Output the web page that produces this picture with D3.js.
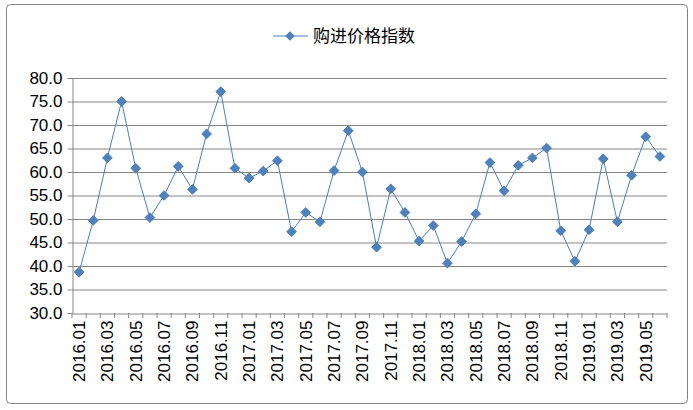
<!DOCTYPE html><html><head><meta charset="utf-8"><script src="https://cdn.jsdelivr.net/npm/d3@7"></script>
<style>body{margin:0;background:#fff}</style></head><body><svg id="c" width="693" height="410"></svg><script>
const seriesName="购进价格指数";
const years=["2016","2017","2018","2019"];
const values=[38.7,49.7,63.0,75.0,60.8,50.3,55.0,61.2,56.3,68.1,77.1,60.8,58.7,60.2,62.4,47.3,51.4,49.4,60.3,68.8,60.0,44.0,56.4,51.4,45.3,48.6,40.6,45.2,51.1,62.0,56.0,61.4,63.0,65.1,47.5,41.0,47.7,62.8,49.4,59.3,67.5,63.3];
const yTicks=[30,35,40,45,50,55,60,65,70,75,80];
const cats=[];years.forEach(y=>{for(let m=1;m<=12;m++)cats.push(y+"."+String(m).padStart(2,"0"));});
const months=cats.slice(0,values.length);
const svg=d3.select("#c");
svg.append("rect").attr("x",6.5).attr("y",4.5).attr("width",681).attr("height",399).attr("rx",4).attr("fill","#fff").attr("stroke","#868686");
const L=72,R=667,T=78,B=313;
const x=d3.scaleBand().domain(months).range([L,R]);
const y=d3.scaleLinear().domain([30,80]).range([B,T]);
const f="'Liberation Sans',Arial,sans-serif";
svg.append("g").selectAll("line").data(yTicks.slice(1)).join("line").attr("x1",L).attr("x2",R).attr("y1",d=>y(d)+.5).attr("y2",d=>y(d)+.5).attr("stroke","#868686");
const ya=svg.append("g").attr("transform",`translate(${L+.5},0)`).call(d3.axisLeft(y).tickValues(yTicks).tickFormat(d3.format(".1f")).tickSize(5).tickPadding(5));
ya.select(".domain").attr("stroke","#868686");ya.selectAll("line").attr("stroke","#868686");
ya.selectAll("text").attr("font-family",f).attr("font-size",17).attr("fill","#000");
const xa=svg.append("g").attr("transform",`translate(0,${B+.5})`).call(d3.axisBottom(x).tickSize(0).tickFormat((d,i)=>i%2==0?d:""));
xa.select(".domain").attr("stroke","#868686");
xa.selectAll(".tick line").remove();
svg.append("g").selectAll("line").data(d3.range(months.length+1)).join("line").attr("x1",i=>L+i*x.step()).attr("x2",i=>L+i*x.step()).attr("y1",B).attr("y2",B+5).attr("stroke","#868686");
xa.selectAll("text").attr("font-family",f).attr("font-size",17).attr("fill","#000").attr("transform","rotate(-90)").attr("text-anchor","end").attr("dx","-7").attr("dy","0.35em").attr("x",0).attr("y",0);
const line=d3.line().x((d,i)=>x(months[i])+x.bandwidth()/2).y(d=>y(d));
svg.append("path").datum(values).attr("d",line).attr("fill","none").attr("stroke","#4a7ebb").attr("stroke-width",1);
const sym=d3.symbol().type(d3.symbolDiamond2).size(60);
svg.append("g").selectAll("path").data(values).join("path").attr("d",sym).attr("transform",(d,i)=>`translate(${x(months[i])+x.bandwidth()/2},${y(d)})`).attr("fill","#4f81bd").attr("stroke","#4a7ebb");
svg.append("line").attr("x1",273).attr("x2",308).attr("y1",36).attr("y2",36).attr("stroke","#4a7ebb");
svg.append("path").attr("d",sym).attr("transform","translate(290,36)").attr("fill","#4f81bd");
svg.append("text").attr("x",313).attr("y",42).attr("font-family","'Noto Sans CJK SC',sans-serif").attr("font-size",17).text(seriesName);
</script></body></html>
